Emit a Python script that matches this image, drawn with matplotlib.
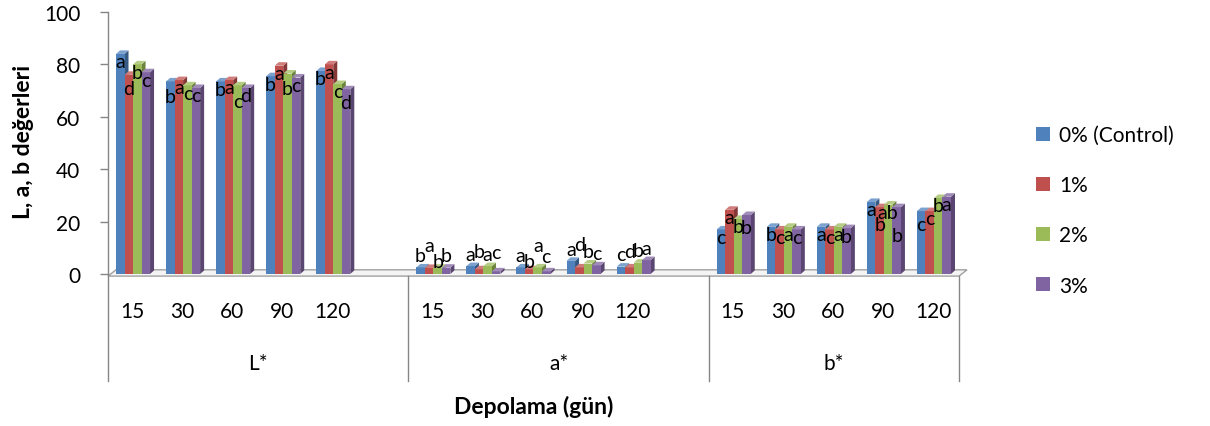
import matplotlib
matplotlib.use("Agg")
import matplotlib.pyplot as plt
from matplotlib.patches import Polygon, Patch
from matplotlib.lines import Line2D
import numpy as np

plt.rcParams['font.family'] = ['Lato', 'DejaVu Sans']

# ---------------- data ----------------
groups = ["L*", "a*", "b*"]
days = ["15", "30", "60", "90", "120"]
series_names = ["0% (Control)", "1%", "2%", "3%"]
colors = ["#4F81BD", "#C0504D", "#9BBB59", "#8064A2"]

# 15 values per series: L* (15..120), a* (15..120), b* (15..120)
control = [84.0, 73.5, 73.5, 75.5, 77.5, 2.5, 3.0, 2.5, 5.0, 2.8, 17.0, 18.0, 18.0, 27.5, 24.0]
pct1 = [76.0, 74.0, 74.0, 79.5, 80.0, 2.3, 1.8, 1.8, 2.5, 2.5, 24.5, 17.0, 17.0, 25.5, 24.0]
pct2 = [80.0, 72.0, 72.0, 76.5, 72.5, 2.4, 3.0, 2.5, 4.0, 4.3, 21.0, 18.0, 18.0, 26.5, 29.0]
pct3 = [77.0, 71.0, 71.0, 75.0, 70.5, 2.4, 1.0, 1.0, 3.3, 5.3, 22.5, 17.0, 17.5, 25.5, 29.5]

control_letters = ["a", "b", "b", "b", "b", "b", "a", "a", "a", "c", "c", "b", "a", "a", "c"]
pct1_letters = ["d", "a", "a", "a", "a", "a", "b", "b", "d", "d", "a", "c", "c", "b", "c"]
pct2_letters = ["b", "c", "c", "b", "c", "b", "a", "a", "b", "b", "b", "a", "a", "ab", "b"]
pct3_letters = ["c", "c", "d", "c", "d", "b", "c", "c", "c", "a", "b", "c", "b", "b", "a"]

values = [control, pct1, pct2, pct3]
letters = [control_letters, pct1_letters, pct2_letters, pct3_letters]

# label nudges (points), keyed by (series, bar index)
nudges = {(1, 0): -4, (0, 1): -5, (2, 2): -6, (2, 3): -5, (3, 4): -4,
          (1, 5): 8, (2, 5): -4, (1, 6): 4, (3, 6): 5, (1, 7): -3, (2, 7): 7,
          (3, 7): 2, (1, 8): 8, (1, 9): 3,
          (3, 10): -3, (1, 13): -7, (3, 13): -15, (0, 14): -4}

# ---------------- layout ----------------
W, H = 1210, 427
fig = plt.figure(figsize=(W / 100, H / 100), dpi=100)
ax = fig.add_axes([108 / W, 1 - 275 / H, (959 - 108) / W, (275 - 13) / H])
ax.set_xlim(-0.5, 16.5)
ax.set_ylim(0, 100)

slot_starts = [0, 6, 12]
slot_x = [slot_starts[g] + d for g in range(3) for d in range(5)]

w = 0.17
dx, dy = 0.08, 1.35
gray = "#868686"


def shade(c, f):
    c = np.array(matplotlib.colors.to_rgb(c))
    return tuple(np.clip(c * f, 0, 1))


def tint(c, f):
    c = np.array(matplotlib.colors.to_rgb(c))
    return tuple(c + (1 - c) * f)


# floor
fl = Polygon([(-0.5, -0.8), (16.5, -0.8), (16.5 + 2 * dx, 1.6), (-0.5 + 2 * dx, 1.6)],
             closed=True, facecolor="#F4F4F4", edgecolor="#A0A0A0", lw=1.0,
             clip_on=False, zorder=1)
ax.add_patch(fl)

z = 3.0
for k, x0 in enumerate(slot_x):
    for i in range(4):
        x = x0 + (i - 1.5) * w
        h = values[i][k]
        col = colors[i]
        z += 0.01
        ax.bar(x, h, width=w, color=col, edgecolor="none", zorder=z)
        side = Polygon([(x + w / 2, 0), (x + w / 2 + dx, dy), (x + w / 2 + dx, h + dy), (x + w / 2, h)],
                       closed=True, facecolor=shade(col, 0.7), edgecolor="none", zorder=z - 0.005)
        top = Polygon([(x - w / 2, h), (x + w / 2, h), (x + w / 2 + dx, h + dy), (x - w / 2 + dx, h + dy)],
                      closed=True, facecolor=tint(col, 0.25), edgecolor="none", zorder=z)
        ax.add_patch(side)
        ax.add_patch(top)

# letter labels
for k, x0 in enumerate(slot_x):
    for i in range(4):
        x = x0 + (i - 1.5) * w
        h = values[i][k]
        base = h - 3 if h > 10 else h + 4.5
        ax.annotate(letters[i][k], (x, base), xytext=(0, nudges.get((i, k), 0)),
                    textcoords="offset points", ha="center", va="center",
                    fontsize=14, color="black", zorder=50)

# axes styling
for s in ["top", "right", "bottom", "left"]:
    ax.spines[s].set_visible(False)
ax.set_xticks([])
ax.set_yticks(range(0, 101, 20))
ax.tick_params(axis="y", length=6, width=1, color=gray, pad=14, labelsize=15)
ax.tick_params(axis="x", length=0)

# y axis line (continues down as category separator)
ax.add_line(Line2D([-0.5, -0.5], [100, -41], color=gray, lw=1, clip_on=False))
for xs in [5.5, 11.5, 16.5]:
    ax.add_line(Line2D([xs, xs], [-0.8, -41], color=gray, lw=1, clip_on=False))

# category labels
for k, x0 in enumerate(slot_x):
    ax.text(x0 - 0.02, -14.2, days[k % 5], ha="center", va="center", fontsize=15, clip_on=False)
group_centers = [2.5, 8.5, 14.0]
for g, gx in enumerate(group_centers):
    ax.text(gx, -34, groups[g], ha="center", va="center", fontsize=15, clip_on=False)

fig.text(534 / W, 1 - 407 / H, "Depolama (gün)", ha="center", va="center",
         fontsize=16.5, fontweight="bold")
fig.text(24 / W, 1 - 142 / H, "L, a, b değerleri", ha="center", va="center",
         rotation=90, fontsize=16.5, fontweight="bold")

handles = [Patch(facecolor=c, edgecolor="none") for c in colors]
fig.legend(handles, series_names, loc="upper left",
           bbox_to_anchor=(1036 / W, 1 - 126 / H), frameon=False, fontsize=15,
           handlelength=0.65, handleheight=0.65, handletextpad=0.45,
           labelspacing=1.45, borderpad=0, borderaxespad=0)

fig.savefig("out.png", dpi=100)
